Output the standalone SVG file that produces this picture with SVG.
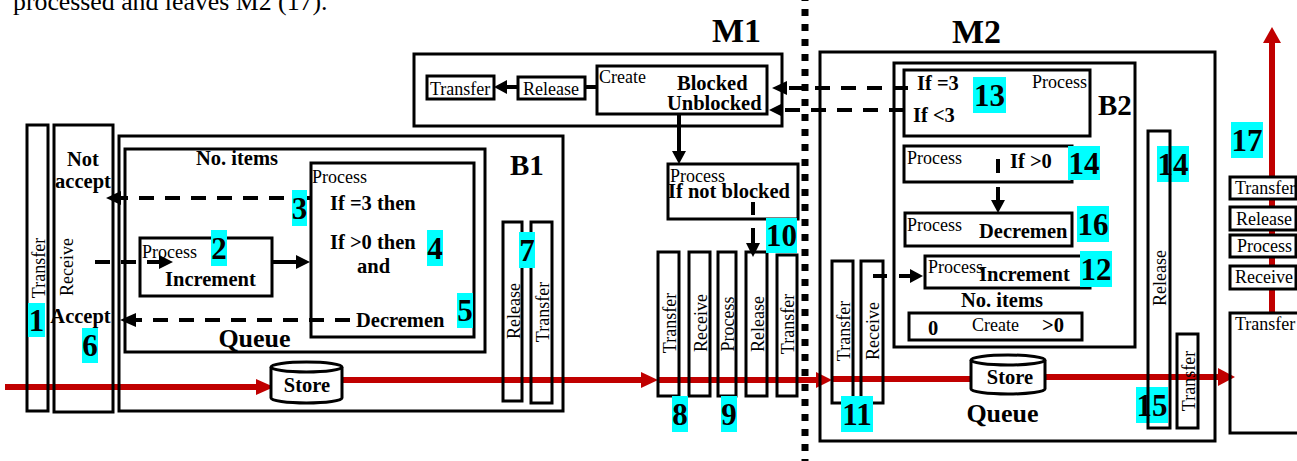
<svg xmlns="http://www.w3.org/2000/svg" width="1297" height="461" viewBox="0 0 1297 461">
<style>
.b{fill:none;stroke:#000;stroke-width:3}
.w{fill:#fff;stroke:#000;stroke-width:3}
.t{font-family:"Liberation Serif","Times New Roman",serif;font-size:18px;fill:#000}
.tb{font-family:"Liberation Serif","Times New Roman",serif;font-size:20.5px;font-weight:bold;fill:#000}
.big{font-family:"Liberation Serif","Times New Roman",serif;font-size:34px;font-weight:bold;fill:#000}
.bx{font-family:"Liberation Serif","Times New Roman",serif;font-size:29px;font-weight:bold;fill:#000}
.qu{font-family:"Liberation Serif","Times New Roman",serif;font-size:26px;font-weight:bold;fill:#000;text-anchor:middle}
.num{font-family:"Liberation Serif","Times New Roman",serif;font-size:31px;font-weight:bold;fill:#000;text-anchor:middle}
.cy{fill:#00FFFF}
.red{stroke:#C00000;stroke-width:6;fill:none}
.rh{fill:#C00000}
.dash{stroke:#000;stroke-width:4;fill:none;stroke-dasharray:15 11}
.sol{stroke:#000;stroke-width:4;fill:none}
.ah{fill:#000}
.mid{text-anchor:middle}
</style>

<text class="t" x="13" y="10" style="font-size:25.8px">processed and leaves M2 (17).</text>

<g id="separator">
<line x1="805" y1="0" x2="805" y2="461" stroke="#000" stroke-width="7" stroke-dasharray="7 8" stroke-dashoffset="6"/>
</g>

<g id="connectors">
<!-- red flow -->
<path class="red" d="M5,387 H258"/><polygon class="rh" points="256,379 274,387 256,395"/>
<path class="red" d="M342,380 H643"/><polygon class="rh" points="641,372 658,380 641,388"/>
<path class="red" d="M658,380 H818"/><polygon class="rh" points="816,372 832,380 816,388"/>
<path class="red" d="M831,379 H972"/>
<path class="red" d="M1046,377 H1220"/><polygon class="rh" points="1218,368 1235,377 1218,386"/>
<path class="red" d="M1272,313 V42"/><polygon class="rh" points="1263,43 1272,27 1281,43"/>
<!-- M1 -->
<path class="sol" d="M585,87 H597"/>
<path class="sol" d="M518,87 H506"/><polygon class="ah" points="507,80 494,87 507,94"/>
<path class="sol" d="M679,114 V152"/><polygon class="ah" points="672,151 679,164 686,151"/>
<path class="sol" d="M753,202 V215 M753,228 V245"/><polygon class="ah" points="746,243 753,257 760,243"/>
<!-- M2 to M1 -->
<path class="dash" d="M908,88 H786"/><polygon class="ah" points="787,81 772,88 787,95"/>
<path class="dash" d="M904,110 H782"/><polygon class="ah" points="783,103 769,110 783,117"/>
<!-- B1 -->
<path class="dash" d="M310,198 H120"/><polygon class="ah" points="121,191 106,198 121,205"/>
<path class="dash" d="M95,262 H160"/><polygon class="ah" points="159,255 173,262 159,269"/>
<path class="sol" d="M272,262 H297"/><polygon class="ah" points="296,255 310,262 296,269"/>
<path class="dash" d="M350,320 H135"/><polygon class="ah" points="136,313 120,320 136,327"/>
<!-- B2 -->
<path class="sol" d="M998,159 V173 M998,187 V201"/><polygon class="ah" points="991,200 998,213 1005,200"/>
<path class="sol" d="M873,276 H887 M899,276 H911"/><polygon class="ah" points="910,269 923,276 910,283"/>
</g>

<g id="B1">
<rect class="b" x="119" y="136" width="444" height="275"/>
<text class="bx" x="510" y="175">B1</text>
</g>
<g id="B1-queue">
<rect class="b" x="125" y="149" width="360" height="203"/>
<text class="tb mid" x="237" y="165">No. items</text>
<text class="qu" x="254.5" y="347">Queue</text>
</g>
<g id="B1-process-check">
<rect class="b" x="311" y="163" width="163" height="174"/>
<text class="t" x="312" y="183">Process</text>
<text class="tb" x="330" y="210">If =3 then</text>
<text class="tb" x="330" y="249">If &gt;0 then</text>
<text class="tb" x="357" y="273">and</text>
<text class="tb" x="356" y="327">Decremen</text>
</g>
<g id="B1-increment">
<rect class="b" x="140" y="238" width="132" height="58"/>
<text class="t" x="142" y="258">Process</text>
<text class="tb" x="165" y="286">Increment</text>
</g>
<g id="B1-store">
<path class="w" d="M271,367 A35.5,5 0 0 1 342,367 V398 A35.5,5 0 0 1 271,398 Z"/>
<path class="b" d="M271,367 A35.5,5 0 0 0 342,367"/>
<text class="tb mid" x="307" y="392">Store</text>
</g>
<g id="B1-transfer-in">
<rect class="b" x="27" y="125" width="21" height="286"/>
<text class="t mid" transform="translate(44.5,268) rotate(-90)">Transfer</text>
</g>
<g id="B1-receive">
<rect class="b" x="54" y="125" width="59" height="287"/>
<text class="t mid" transform="translate(73,267) rotate(-90)">Receive</text>
<text class="tb mid" x="83" y="166">Not</text>
<text class="tb mid" x="83" y="188">accept</text>
<text class="tb mid" x="80.5" y="323">Accept</text>
</g>
<g id="B1-release">
<rect class="b" x="503" y="222" width="19" height="179"/>
<text class="t mid" transform="translate(519.5,311) rotate(-90)">Release</text>
</g>
<g id="B1-transfer-out">
<rect class="b" x="531" y="222" width="21" height="181"/>
<text class="t mid" transform="translate(548.5,312) rotate(-90)">Transfer</text>
</g>

<g id="M1-top">
<rect class="b" x="414" y="54" width="368" height="72"/>
</g>
<text class="big" x="712" y="42">M1</text>
<g id="M1-transfer-top">
<rect class="b" x="427" y="76" width="67" height="23"/>
<text class="t" x="430" y="95">Transfer</text>
</g>
<g id="M1-release-top">
<rect class="b" x="518" y="77" width="67" height="22"/>
<text class="t" x="523" y="95">Release</text>
</g>
<g id="M1-create-blocked">
<rect class="b" x="597" y="66" width="170" height="48"/>
<text class="t" x="599" y="83">Create</text>
<text class="tb" x="677" y="90">Blocked</text>
<text class="tb" x="667" y="110">Unblocked</text>
</g>
<g id="M1-if-not-blocked">
<rect class="b" x="668" y="164" width="130" height="55"/>
<text class="t" x="670" y="182">Process</text>
<text class="tb" x="668" y="198">If not blocked</text>
</g>
<g id="M1-transfer-in">
<rect class="b" x="658" y="252" width="21" height="144"/>
<text class="t mid" transform="translate(675.5,323) rotate(-90)">Transfer</text>
</g>
<g id="M1-receive">
<rect class="b" x="689" y="252" width="21" height="144"/>
<text class="t mid" transform="translate(706.5,323) rotate(-90)">Receive</text>
</g>
<g id="M1-process">
<rect class="b" x="718" y="252" width="18" height="144"/>
<text class="t mid" transform="translate(734,324) rotate(-90)">Process</text>
</g>
<g id="M1-release">
<rect class="b" x="746" y="252" width="21" height="144"/>
<text class="t mid" transform="translate(763.5,324) rotate(-90)">Release</text>
</g>
<g id="M1-transfer-out">
<rect class="b" x="777" y="255" width="20" height="141"/>
<text class="t mid" transform="translate(794,324) rotate(-90)">Transfer</text>
</g>

<g id="M2">
<rect class="b" x="820" y="52" width="395" height="389"/>
<text class="big" x="952" y="43">M2</text>
<text class="qu" x="1002.5" y="422">Queue</text>
</g>
<g id="B2">
<rect class="b" x="894" y="63" width="241" height="284"/>
<text class="bx" x="1098" y="115">B2</text>
<text class="tb" x="961" y="307">No. items</text>
</g>
<g id="B2-check">
<rect class="b" x="904" y="70" width="186" height="66"/>
<text class="tb" x="917" y="90">If =3</text>
<text class="t" x="1032" y="88">Process</text>
<text class="tb" x="913" y="122">If &lt;3</text>
</g>
<g id="B2-if-positive">
<rect class="b" x="904" y="146" width="168" height="36"/>
<text class="t" x="907" y="164">Process</text>
<text class="tb" x="1010" y="168">If &gt;0</text>
</g>
<g id="B2-decrement">
<rect class="b" x="905" y="213" width="167" height="33"/>
<text class="t" x="907" y="231">Process</text>
<text class="tb" x="979" y="238">Decremen</text>
</g>
<g id="B2-increment">
<rect class="b" x="925" y="256" width="165" height="32"/>
<text class="t" x="928" y="273">Process</text>
<text class="tb" x="979" y="281">Increment</text>
</g>
<g id="B2-create">
<rect class="b" x="909" y="313" width="173" height="27"/>
<text class="tb" x="928" y="335">0</text>
<text class="t" x="972" y="331">Create</text>
<text class="tb" x="1042" y="332">&gt;0</text>
</g>
<g id="M2-store">
<path class="w" d="M971,360 A37,5 0 0 1 1045,360 V389 A37,5 0 0 1 971,389 Z"/>
<path class="b" d="M971,360 A37,5 0 0 0 1045,360"/>
<text class="tb mid" x="1010" y="384">Store</text>
</g>
<g id="M2-transfer-in">
<rect class="b" x="832" y="261" width="21" height="142"/>
<text class="t mid" transform="translate(849.5,331) rotate(-90)">Transfer</text>
</g>
<g id="M2-receive">
<rect class="b" x="861" y="261" width="22" height="142"/>
<text class="t mid" transform="translate(879,331) rotate(-90)">Receive</text>
</g>
<g id="M2-transfer-out">
<rect class="b" x="1177" y="334" width="21" height="94"/>
<text class="t mid" transform="translate(1194.5,381) rotate(-90)">Transfer</text>
</g>

<g id="out-transfer-top">
<rect class="w" x="1230" y="177" width="66" height="22"/>
<text class="t" x="1235" y="194">Transfer</text>
</g>
<g id="out-release">
<rect class="w" x="1230" y="207" width="66" height="23"/>
<text class="t" x="1236" y="225">Release</text>
</g>
<g id="out-process">
<rect class="w" x="1230" y="235" width="66" height="22"/>
<text class="t" x="1237" y="252">Process</text>
</g>
<g id="out-receive">
<rect class="w" x="1230" y="266" width="66" height="23"/>
<text class="t" x="1235" y="283">Receive</text>
</g>
<g id="out-transfer">
<rect class="b" x="1230" y="313" width="70" height="120"/>
<text class="t" x="1235" y="330">Transfer</text>
</g>

<g id="labels">
<rect class="cy" x="28" y="303" width="17" height="34"/><text class="num" x="36.5" y="331">1</text>
<rect class="cy" x="211" y="230" width="16" height="36"/><text class="num" x="219" y="259">2</text>
<rect class="cy" x="292" y="190" width="15" height="36"/><text class="num" x="299.5" y="219">3</text>
<rect class="cy" x="427" y="230" width="16" height="36"/><text class="num" x="435" y="259">4</text>
<rect class="cy" x="457" y="293" width="16" height="35"/><text class="num" x="465" y="321">5</text>
<rect class="cy" x="82" y="328" width="16" height="35"/><text class="num" x="90" y="356">6</text>
<rect class="cy" x="519" y="232" width="16" height="36"/><text class="num" x="527" y="261">7</text>
<rect class="cy" x="672" y="396" width="16" height="36"/><text class="num" x="680" y="425">8</text>
<rect class="cy" x="721" y="396" width="16" height="36"/><text class="num" x="729" y="425">9</text>
<rect class="cy" x="766" y="218" width="31" height="35"/><text class="num" x="781.5" y="246">10</text>
<rect class="cy" x="841" y="396" width="32" height="36"/><text class="num" x="857" y="425">11</text>
<rect class="cy" x="1080" y="251" width="32" height="36"/><text class="num" x="1096" y="280">12</text>
<rect class="cy" x="973" y="77" width="33" height="36"/><text class="num" x="989.5" y="106">13</text>
<rect class="cy" x="1068" y="146" width="32" height="34"/><text class="num" x="1084" y="174">14</text>
<rect class="cy" x="1157" y="146" width="32" height="36"/><text class="num" x="1173" y="175">14</text>
<rect class="cy" x="1136" y="387" width="32" height="36"/><text class="num" x="1152" y="416">15</text>
<rect class="cy" x="1077" y="206" width="32" height="36"/><text class="num" x="1093" y="235">16</text>
<rect class="cy" x="1231" y="122" width="32" height="36"/><text class="num" x="1247" y="151">17</text>
</g>

<g id="M2-release">
<rect class="b" x="1148" y="131" width="22" height="297"/>
<text class="t mid" transform="translate(1166,278) rotate(-90)">Release</text>
</g>
</svg>
